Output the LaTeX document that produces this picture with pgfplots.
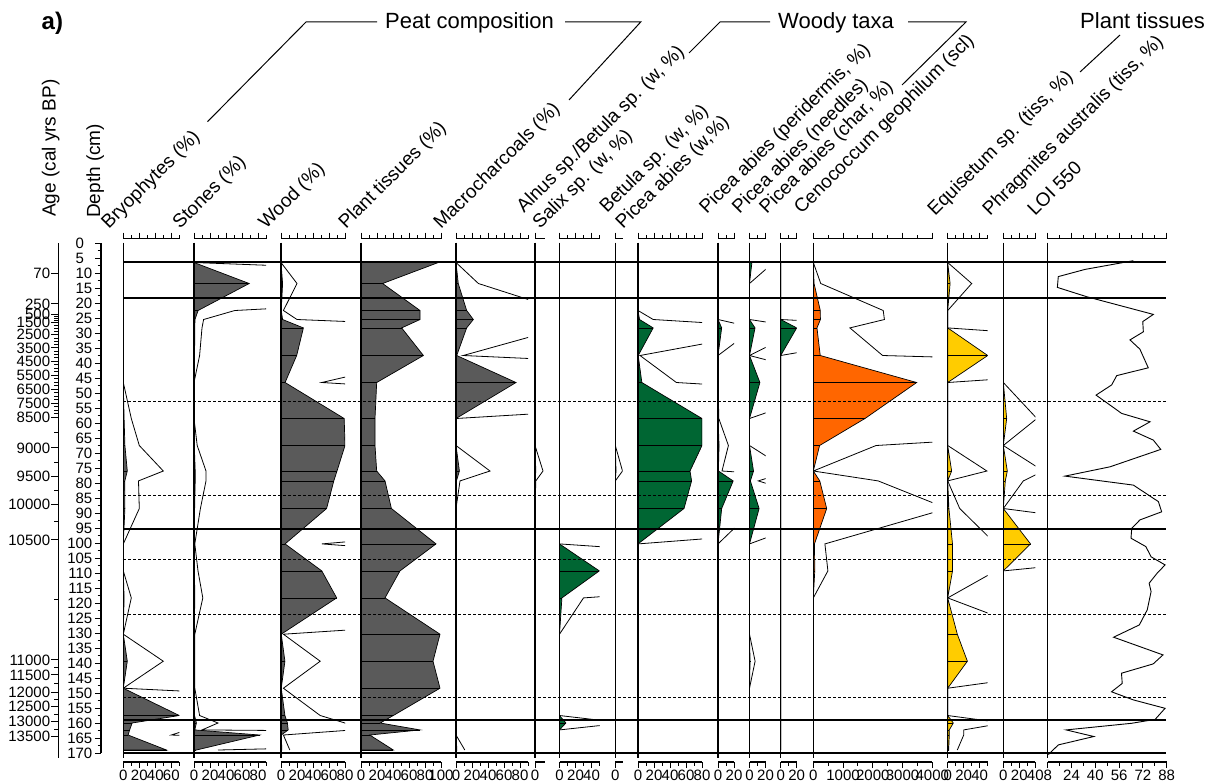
\documentclass[border=0pt]{standalone}
\usepackage{pgfplots}
\pgfplotsset{compat=1.18}
\usepackage{pgfplotstable}
\usepackage{fontspec}
\setmainfont{Liberation Sans}

\definecolor{peat}{RGB}{90,90,90}
\definecolor{woody}{RGB}{0,102,51}
\definecolor{cenoc}{RGB}{255,102,0}
\definecolor{tiss}{RGB}{255,204,0}

\newcommand\collab{\fontsize{19}{22}\selectfont}
\newcommand\grplab{\fontsize{22}{26}\selectfont}
\newcommand\tlfont{\fontsize{15}{17}\selectfont}

\pgfplotstableread{
depth bryo stones wood plant macro alnus salix betula piceaw perid needles char ceno equi phrag
6.5   0    0     0    96.7  0    0   0    0    0    0    3    0    0    0    0
13.5  0    69    2    27    2.8  0   0    0    0    0    0    0    25   3    0
22.5  0    5.1   0.3  73.8  13.3 0   0    0    0    0    0    0    235  0    0
25.5  0    1.2   2    73.8  21.7 0   0    0    1.9  0    0    0    239  0    0
28.3  0    1     28   50.8  13.3 0   0    0    19   4.6  6.9  20   123  0    0
37.5  0    0.7   19.6 78    0.9  0   0    0    0.25 0    0    0    233  50   0
46.5  0    0     5.1  19.6  75   0   0    0    4.8  0    13   0    3475 0    0
58.5  1    0     79   17.5  0    0   0    0    80   0.1  0    0    1737 0    4.2
67.5  2    0.4   80   17.5  0    0   0    0    80   1.3  0    0    211  0    0
76    5    1.5   70   19.6  4.25 1   0    0.9  65   0.5  5    0    0    4.9  5
79.3  1.9  1.5   66   30    0.5  0.1 0    0    67   19   1.1  0    218  0    2.5
88.5  2    0.8   57   38    0    0   0    0    57.5 4.6  12   0    450  1.5  0
100.3 0    0.1   5.1  93.75 0    0   0    0    0    0    0    0    39   6    34
109.3 0    0.5   51   48.75 0    0   49.8 0    0    0    0    0    49   6    0
118.3 1    1.1   69.6 30    0    0   3    0    0    0    0    0    0    0    0
130.4 0    0.1   0.3  98.75 0    0   0    0    0    0    0    0    0    12   0
139.4 5    0.1   4.9  90    0    0   0    0    0    0    0.7  0    0    24.6 0
148.4 0    0.1   0.3  98.75 0    0   0    0    0    0    0    0    0    0    0
157.5 70   0.7   4.9  40.4  0    0   0    0    0    0    0    0    0    0    0
160   11   3     8    24    0    0   8    0    0    0    0    0    0    7    0
162.3 8    1     9    73.75 0    0   0    0    0    0    0    0    0    2    0
164   6    82    0.3  11    0    0   0    0    0    0    0    0    0    2    0
169   54   3     1.1  40.4  1.1  0   0    0    0    0    0    0    0    1.2  0
}\data

\pgfplotstableread{
depth loi
5.9   65.6
8.8   33.1
11.2  15.1
14.8  14.5
17.9  34.2
23.8  79
26.2  71.9
29.6  72.3
32.3  63.3
35.4  70
41.6  75.6
44.2  54.4
47.3  51
50.7  40.5
56.8  57.7
59.6  76.8
62.7  65.6
65.7  79
68.8  84
74.6  49.9
77.7  19.6
80.7  65.6
86.2  82.4
89.6  84.6
92.3  70
95.1  64.5
98.4  64
101.2 74
104.6 77.5
107.3 86.9
110.1 81.5
113.4 76.2
116.2 77.5
122.3 74.9
127.3 69.6
131.4 52.3
137.3 85.5
140.3 78.9
143.4 57.6
146.8 58.1
149.6 50.9
152.3 65.6
155.1 86.9
158.8 80.2
160.1 64.3
162.3 20.4
164.5 39
167.3 15.1
170.5 8.5
}\loidata

\pgfplotsset{
  panel/.style={
    scale only axis, height=523.5pt, y dir=reverse, ymin=-1.5, ymax=173, xmin=0,
    anchor=north west, axis on top,
    axis x line*=box, axis y line*=left,
    axis line style={-, line width=1.1pt, black},
    y axis line style={shorten <=4.2pt, shorten >=4.2pt, line width=1.3pt},
    ytick=\empty,
    tick align=outside, xtick pos=both, xticklabel pos=lower,
    major tick length=6pt, minor tick length=3.5pt,
    every tick/.style={black, line width=1pt},
    xticklabel style={font=\tlfont, inner sep=1.5pt},
    /pgf/number format/.cd, assume math mode=true, 1000 sep={},
  },
  exag/.style={black, line width=0.8pt},
  sil/.style={draw=black, line width=0.7pt},
  samp/.style={black, line width=0.7pt},
}

\newcommand\silpanel[6]{%
\begin{axis}[panel, at={(#1pt,-238.5pt)}, xmax=#2, width=#3pt, #6]
\addplot[exag] table[x expr=10*\thisrow{#4}, y=depth]{\data};
\addplot[sil, fill=#5] table[x=#4, y=depth]{\data} -- (axis cs:0,169) -- (axis cs:0,6.5) -- cycle;
\addplot[samp, xcomb] table[x=#4, y=depth]{\data};
\end{axis}}

\begin{document}
\begin{tikzpicture}
\useasboundingbox (0,0) rectangle (1206pt,-783pt);

\silpanel{123.3}{70}{56}{bryo}{peat}{xtick={0,20,40,60}, minor xtick={10,30,50,70}}
\silpanel{194}{90}{72}{stones}{peat}{xtick={0,20,40,60,80}, minor xtick={10,30,50,70,90}}
\silpanel{281}{80}{64}{wood}{peat}{xtick={0,20,40,60,80}, minor xtick={10,30,50,70}}
\silpanel{361}{100}{80}{plant}{peat}{xtick={0,20,40,60,80,100}, minor xtick={10,30,50,70,90}}
\silpanel{456}{90}{72}{macro}{peat}{xtick={0,20,40,60,80}, minor xtick={10,30,50,70,90}}
\silpanel{535}{12}{9.6}{alnus}{woody}{xtick={0}}
\silpanel{559.5}{50}{40}{salix}{woody}{xtick={0,20,40}, minor xtick={10,30,50}}
\silpanel{615.3}{9}{7.2}{betula}{woody}{xtick={0}}
\silpanel{638}{80}{64}{piceaw}{woody}{xtick={0,20,40,60,80}, minor xtick={10,30,50,70}}
\silpanel{718}{20}{16}{perid}{woody}{xtick={0,20}, minor xtick={10}}
\silpanel{749.5}{20}{16}{needles}{woody}{xtick={0,20}, minor xtick={10}}
\silpanel{780.7}{20}{16}{char}{woody}{xtick={0,20}, minor xtick={10}}
\silpanel{813.3}{4000}{119}{ceno}{cenoc}{xtick={0,1000,2000,3000,4000}, minor xtick={500,1500,2500,3500}}
\silpanel{947.7}{50}{40}{equi}{tiss}{xtick={0,20,40}, minor xtick={10,30,50}}
\silpanel{1003.3}{40}{32}{phrag}{tiss}{xtick={0,20,40}, minor xtick={10,30}}

% LOI
\begin{axis}[panel, at={(1047.7pt,-238.5pt)}, xmin=8, xmax=88, width=119pt,
  xtick={8,24,40,56,72,88}, minor xtick={16,32,48,64,80}]
\addplot[black, line width=0.9pt] table[x=loi, y=depth]{\loidata};
\end{axis}

% zone lines
\begin{axis}[scale only axis, at={(123.3pt,-238.5pt)}, anchor=north west, width=1042.7pt, height=523.5pt,
  y dir=reverse, ymin=-1.5, ymax=173, xmin=0, xmax=1, hide axis, clip=false]
\addplot[black, line width=2pt] coordinates {(0,6.4) (1,6.4)};
\addplot[black, line width=2pt] coordinates {(0,18.4) (1,18.4)};
\addplot[black, line width=2pt] coordinates {(0,95.4) (1,95.4)};
\addplot[black, line width=2pt] coordinates {(0,158.9) (1,158.9)};
\addplot[black, line width=2pt] coordinates {(0,170.1) (1,170.1)};
\addplot[black, line width=1pt, dash pattern=on 3pt off 2pt] coordinates {(0,52.7) (1,52.7)};
\addplot[black, line width=1pt, dash pattern=on 3pt off 2pt] coordinates {(0,84) (1,84)};
\addplot[black, line width=1pt, dash pattern=on 3pt off 2pt] coordinates {(0,105.4) (1,105.4)};
\addplot[black, line width=1pt, dash pattern=on 3pt off 2pt] coordinates {(0,123.7) (1,123.7)};
\addplot[black, line width=1pt, dash pattern=on 3pt off 2pt] coordinates {(0,151.6) (1,151.6)};
\end{axis}

% depth axis
\begin{axis}[scale only axis, at={(101pt,-243pt)}, anchor=north west, width=1pt, height=510pt,
  y dir=reverse, ymin=0, ymax=170, xmin=0, xmax=1,
  axis x line=none, axis y line*=left, axis line style={-, line width=1.1pt},
  ytick={0,5,...,170}, minor ytick={2.5,7.5,...,167.5},
  yticklabels={0\phantom{0},5\phantom{0},10,15,20,25,30,35,40,45,50,55,60,65,70,75,80,85,90,95,100,105,110,115,120,125,130,135,140,145,150,155,160,165,170},
  tick align=outside, major tick length=6pt, minor tick length=3.5pt,
  every tick/.style={black, line width=1pt},
  yticklabel style={font=\tlfont, inner sep=2.5pt}]
\end{axis}

% age axis
\begin{axis}[scale only axis, at={(58.3pt,-243pt)}, anchor=north west, width=1pt, height=515pt,
  y dir=reverse, ymin=0, ymax=171.7, xmin=0, xmax=1,
  axis x line=none, axis y line*=left, axis line style={-, line width=1.1pt},
  ytick={10.1,20.3,23.9,26.6,30.6,35,39.4,44.1,48.8,53.4,58.1,68.3,77.9,87.1,99,139,144,149.7,154.6,159.6,164.6},
  yticklabels={70,250,500,1500,2500,3500,4500,5500,6500,7500,8500,9000,9500,10000,10500,11000,11500,12000,12500,13000,13500},
  minor ytick={24.6,25.25,25.9,27.6,28.6,29.6,31.7,32.8,33.9,36.1,37.2,38.3,40.6,41.75,42.9,45.3,46.45,47.6,49.95,51.1,52.25,54.6,55.75,56.9,63.2,73.1,82.5,93,119,141.5,146.9,152.1,157.1,162.1},
  tick align=outside, major tick length=7pt, minor tick length=4pt,
  every tick/.style={black, line width=1pt},
  yticklabel style={font=\tlfont, inner sep=1pt}]
\end{axis}

% titles
\node[font=\fontsize{24}{28}\selectfont\bfseries, anchor=base west, inner sep=0] at (41.5pt,-30pt) {a)};
\node[font=\collab, rotate=90, anchor=base west, inner sep=0] at (55.5pt,-217pt) {Age (cal yrs BP)};
\node[font=\collab, rotate=90, anchor=base west, inner sep=0] at (100pt,-218pt) {Depth (cm)};

% group labels
\node[font=\grplab, anchor=base west, inner sep=0] at (385pt,-28.7pt) {Peat composition};
\node[font=\grplab, anchor=base west, inner sep=0] at (778pt,-28.7pt) {Woody taxa};
\node[font=\grplab, anchor=base west, inner sep=0] at (1080pt,-28.7pt) {Plant tissues};
\draw[line width=1pt] (207.5pt,-121.7pt) -- (306pt,-22pt) -- (377pt,-22pt);
\draw[line width=1pt] (565pt,-22pt) -- (640.7pt,-22pt) -- (569pt,-100pt);
\draw[line width=1pt] (689pt,-53pt) -- (720pt,-22pt) -- (770pt,-22pt);
\draw[line width=1pt] (908pt,-22pt) -- (966pt,-22pt) -- (902pt,-85pt);
\draw[line width=1pt] (1120pt,-35pt) -- (1080pt,-72pt);

% column labels
\begin{scope}[every node/.style={font=\collab, rotate=45, anchor=base west, inner sep=0}]
\node at (108.7pt,-230pt) {Bryophytes (\%)};
\node at (180pt,-230pt) {Stones (\%)};
\node at (266pt,-230pt) {Wood (\%)};
\node at (346pt,-230pt) {Plant tissues (\%)};
\node at (441pt,-230pt) {Macrocharcoals (\%)};
\node at (524pt,-214pt) {Alnus sp./Betula sp. (w, \%)};
\node at (540pt,-230pt) {Salix sp. (w, \%)};
\node at (607pt,-214pt) {Betula sp. (w, \%)};
\node at (623pt,-230pt) {Picea abies (w,\%)};
\node at (706.6pt,-215pt) {Picea abies (peridermis, \%)};
\node at (739.5pt,-215pt) {Picea abies (needles)};
\node at (766.7pt,-215pt) {Picea abies (char, \%)};
\node at (801.5pt,-215pt) {Cenococcum geophilum (scl)};
\node at (935pt,-217pt) {Equisetum sp. (tiss, \%)};
\node at (990pt,-217pt) {Phragmites australis (tiss, \%)};
\node at (1035pt,-217pt) {LOI 550};
\end{scope}
\end{tikzpicture}
\end{document}
